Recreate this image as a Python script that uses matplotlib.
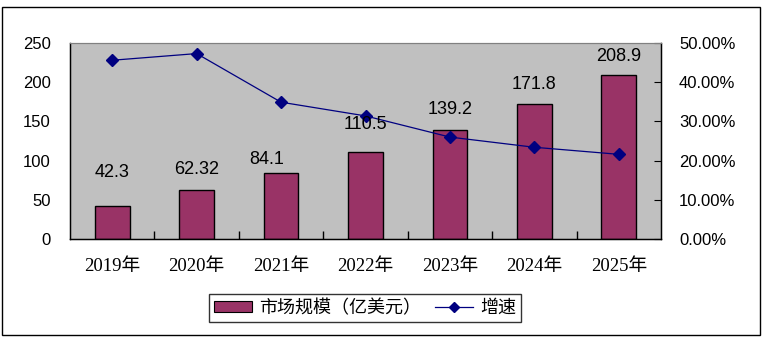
import matplotlib
matplotlib.use("Agg")
import matplotlib.pyplot as plt
from matplotlib.patches import Rectangle, Patch
from matplotlib.lines import Line2D
from matplotlib.ticker import FuncFormatter

# Data
years = ["2019年", "2020年", "2021年", "2022年", "2023年", "2024年", "2025年"]
market_size = [42.3, 62.32, 84.1, 110.5, 139.2, 171.8, 208.9]
size_labels = ["42.3", "62.32", "84.1", "110.5", "139.2", "171.8", "208.9"]
growth = [0.456, 0.473, 0.349, 0.314, 0.260, 0.234, 0.216]

# Palette
COL_BAR = "#993366"
COL_LINE = "#000080"
COL_BG = "#C0C0C0"

# manual label nudges (points, label centre above bar top), as placed in the original
LABEL_DY = [24, 15, 9.5, 20, 14.5, 14.5, 13.5]
LABEL_DX = [0, 0, -10, 0, 0, 0, 0]

NUM_FONT = "Liberation Sans"
CJK_FONT = ["Liberation Serif", "Noto Sans CJK SC", "DejaVu Sans"]

fig = plt.figure(figsize=(7.66, 3.40), dpi=100)
ax = fig.add_axes([70 / 766, 1 - 239 / 340, 591 / 766, 196 / 340])
ax.set_facecolor(COL_BG)

x = list(range(len(years)))
bars = ax.bar(x, market_size, width=0.41, color=COL_BAR,
              edgecolor="black", linewidth=1.0, zorder=2)

ax.set_xlim(-0.5, len(years) - 0.5)
ax.set_ylim(0, 250)
ax.set_yticks([0, 50, 100, 150, 200, 250])
ax.tick_params(axis="y", length=0, pad=14, labelsize=12)
for t in ax.get_yticklabels():
    t.set_family(NUM_FONT)

ax.set_xticks(x)
ax.set_xticklabels(years)
ax.tick_params(axis="x", length=0, pad=14, labelsize=13.5)
for t in ax.get_xticklabels():
    t.set_family(CJK_FONT)
# inside tick marks between categories
ax.set_xticks([i + 0.5 for i in x[:-1]], minor=True)
ax.tick_params(axis="x", which="minor", direction="in", length=6,
               width=1, color="black")

for s in ["left", "bottom", "right"]:
    ax.spines[s].set_color("black")
    ax.spines[s].set_linewidth(1.0)
ax.spines["top"].set_color("#808080")

ax2 = ax.twinx()
ax2.plot(x, growth, color=COL_LINE, linewidth=0.9, marker="D",
         markersize=6, markerfacecolor=COL_LINE, markeredgecolor=COL_LINE,
         zorder=4)
ax2.set_ylim(0, 0.5)
ax2.set_yticks([0, 0.1, 0.2, 0.3, 0.4, 0.5])
ax2.yaxis.set_major_formatter(FuncFormatter(lambda v, p: f"{v * 100:.2f}%"))
ax2.tick_params(axis="y", direction="in", length=5, pad=13, labelsize=12)
for t in ax2.get_yticklabels():
    t.set_family(NUM_FONT)
ax2.spines["top"].set_color("#808080")
ax2.spines["right"].set_color("black")

# data labels drawn on top of the line
for i, (b, lab) in enumerate(zip(bars, size_labels)):
    ax2.annotate(lab, (b.get_x() + b.get_width() / 2, b.get_height()),
                 xycoords=ax.transData,
                 xytext=(LABEL_DX[i], LABEL_DY[i]), textcoords="offset points",
                 ha="center", va="center", fontsize=13, family=NUM_FONT,
                 zorder=6)

# Legend
handles = [
    Patch(facecolor=COL_BAR, edgecolor="black", linewidth=0.8),
    Line2D([0], [0], color=COL_LINE, linewidth=0.9, marker="D",
           markersize=5, markerfacecolor=COL_LINE),
]
leg = fig.legend(handles, ["市场规模（亿美元）", "增速"],
                 loc="center", bbox_to_anchor=(365 / 766, 1 - 308 / 340),
                 ncol=2, frameon=True, fancybox=False, shadow=False,
                 prop={"family": ["Noto Sans CJK SC", "DejaVu Sans"], "size": 13},
                 handlelength=2.1, handleheight=0.55, handletextpad=0.4,
                 columnspacing=0.8, borderpad=0.25, borderaxespad=0)
leg.get_frame().set_edgecolor("black")
leg.get_frame().set_linewidth(1.0)

# outer chart border
fig.patches.append(Rectangle((2 / 766, 5 / 340), 758 / 766, 328 / 340,
                             transform=fig.transFigure, fill=False,
                             edgecolor="black", linewidth=1.0))

fig.savefig("out.png", dpi=100, facecolor="white")
